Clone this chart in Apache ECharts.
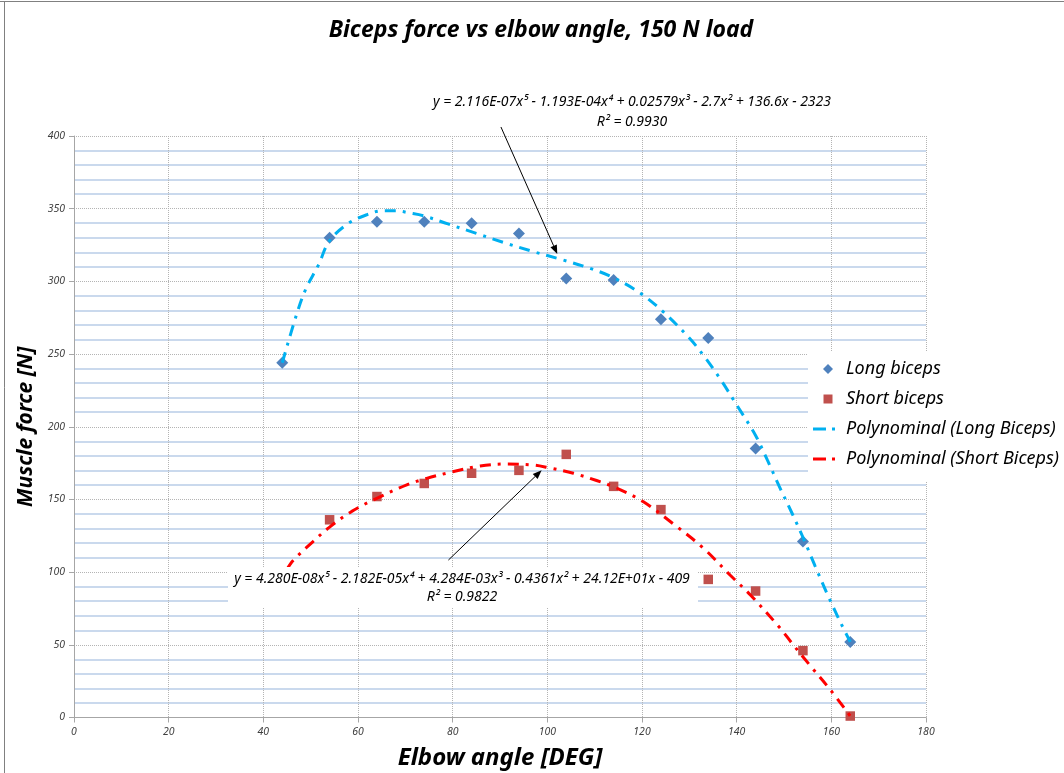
<!DOCTYPE html>
<html><head><meta charset="utf-8">
<script src="https://cdn.jsdelivr.net/npm/echarts@6/dist/echarts.min.js"></script>
<style>html,body{margin:0;padding:0;background:#fff}#c{width:1064px;height:773px}</style>
</head><body><div id="c"></div>
<script>
// ---- data ----
const longAngles = [44, 54, 64, 74, 84, 94, 104, 114, 124, 134, 144, 154, 164];
const longBiceps = [244, 330, 341, 341, 340, 333, 302, 301, 274, 261, 185, 121, 52];
const shortAngles = [54, 64, 74, 84, 94, 104, 114, 124, 134, 144, 154, 164];
const shortBiceps = [136, 152, 161, 168, 170, 181, 159, 143, 95, 87, 46, 1];

const longTrendX = [44, 47, 49, 51.6, 54, 58, 62, 65, 68, 71, 74, 79, 85, 91, 97, 103, 109, 114, 119.6, 124.5, 130, 133, 136.5, 140, 144, 146.5, 149, 151.7, 154, 156.6, 159.4, 162, 164];
const longTrendY = [244, 277, 295, 311, 328, 340, 346, 348.5, 348.5, 347, 345, 339.5, 333, 326.5, 320.5, 315, 309, 302.5, 292, 279, 261, 249, 233, 215, 194, 177, 159, 140.5, 124, 104, 83, 65, 52];
const shortTrendX = [45, 46.3, 50.5, 54, 58.6, 63.2, 70.3, 74.5, 80, 85.8, 91.4, 97, 100, 105.5, 110.4, 114.7, 120.3, 127.4, 133, 138.6, 142.9, 149.2, 151.7, 155.7, 159.8, 164];
const shortTrendY = [102, 108, 121, 131, 141.6, 149.6, 160, 164.5, 169, 173, 174.4, 173.7, 172, 168, 163, 157.7, 148.4, 131.2, 116.4, 98, 84.3, 61.4, 51, 35, 19, 1];

const xMin = 0, xMax = 180, xStep = 20;
const yMin = 0, yMax = 400, yStep = 50;

const titleText = 'Biceps force vs elbow angle, 150 N load';
const xName = 'Elbow angle [DEG]';
const yName = 'Muscle force [N]';
const seriesNames = ['Long biceps', 'Short biceps', 'Polynominal (Long Biceps)', 'Polynominal (Short Biceps)'];
const eqLong = ['y = 2.116E-07x⁵ - 1.193E-04x⁴ + 0.02579x³ - 2.7x² + 136.6x - 2323', 'R² = 0.9930'];
const eqShort = ['y = 4.280E-08x⁵ - 2.182E-05x⁴ + 4.284E-03x³ - 0.4361x² + 24.12E+01x - 409', 'R² = 0.9822'];
// arrow annotations in data coordinates [from, to]
const arrowLong = [[90.2, 406.2], [102.1, 318.8]];
const arrowShort = [[79.1, 108.3], [98.8, 170.1]];

const zip = (a, b) => a.map((v, i) => [v, b[i]]);
const FONT = 'Noto Sans';
const chart = echarts.init(document.getElementById('c'), null, {renderer: 'canvas'});

const dashDot = [11, 7, 3, 7];
// legend icons drawn in a 22x10 box (zero-length subpaths fix the box)
const BOX = 'M0,0L0,0M22,10L22,10';
const icons = [
  'path://' + BOX + 'M15,0L20,5L15,10L10,5Z',
  'path://' + BOX + 'M10.5,0.5L19.5,0.5L19.5,9.5L10.5,9.5Z',
  'path://' + BOX + 'M0,3.5L13,3.5L13,6.5L0,6.5ZM19,3.5L22,3.5L22,6.5L19,6.5Z',
  'path://' + BOX + 'M0,3.5L13,3.5L13,6.5L0,6.5ZM19,3.5L22,3.5L22,6.5L19,6.5Z'
];
const option = {
  animation: false,
  backgroundColor: '#fff',
  title: {
    text: titleText, left: 541, top: 19, textAlign: 'center', padding: 0,
    textStyle: {fontFamily: FONT, fontSize: 23, fontWeight: 'bold', fontStyle: 'italic', color: '#000'}
  },
  grid: {left: 74, right: 138, top: 136, bottom: 55.5, containLabel: false, outerBoundsMode: 'none'},
  legend: {
    orient: 'vertical', left: 808, top: 352,
    backgroundColor: '#fff', padding: [8, 12, 13, 5],
    itemWidth: 22, itemHeight: 10, itemGap: 12, symbolKeepAspect: false,
    textStyle: {fontFamily: FONT, fontSize: 18, fontStyle: 'italic', color: '#000', lineHeight: 17, padding: [0, 0, 0, 6]},
    data: seriesNames.map((n, i) => ({name: n, icon: icons[i]}))
  },
  xAxis: {
    type: 'value', min: xMin, max: xMax, interval: xStep,
    name: xName, nameLocation: 'middle', nameGap: 29,
    nameTextStyle: {fontFamily: FONT, fontSize: 24, fontWeight: 'bold', fontStyle: 'italic', color: '#000'},
    axisLine: {show: true, lineStyle: {color: '#a6a6a6', width: 1}},
    axisTick: {show: true, inside: false, length: 5, lineStyle: {color: '#a6a6a6'}},
    axisLabel: {fontFamily: FONT, fontSize: 10.5, fontStyle: 'italic', color: '#404040', margin: 9},
    splitLine: {show: true, lineStyle: {color: '#b4b4b4', type: 'dotted', width: 1}}
  },
  yAxis: {
    type: 'value', min: yMin, max: yMax, interval: yStep,
    name: yName, nameLocation: 'middle', nameGap: 30,
    nameTextStyle: {fontFamily: FONT, fontSize: 21, fontWeight: 'bold', fontStyle: 'italic', color: '#000'},
    axisLine: {show: true, lineStyle: {color: '#a6a6a6', width: 1}},
    axisTick: {show: true, inside: false, length: 5, lineStyle: {color: '#a6a6a6'}},
    axisLabel: {fontFamily: FONT, fontSize: 10.5, fontStyle: 'italic', color: '#404040', margin: 9},
    splitLine: {show: true, lineStyle: {color: '#b4b4b4', type: 'dotted', width: 1}},
    minorTick: {show: false, splitNumber: 5},
    minorSplitLine: {show: true, lineStyle: {color: '#b9cde8', width: 1.5}}
  },
  series: [
    {name: seriesNames[0], type: 'scatter', symbol: 'diamond', symbolSize: 12,
     itemStyle: {color: '#4f81bd', opacity: 1}, data: zip(longAngles, longBiceps), z: 3},
    {name: seriesNames[1], type: 'scatter', symbol: 'rect', symbolSize: 9.5,
     itemStyle: {color: '#c0504d', opacity: 1}, data: zip(shortAngles, shortBiceps), z: 3},
    {name: seriesNames[2], type: 'line', smooth: 0.35, symbol: 'none', showSymbol: false,
     itemStyle: {color: '#00b0f0'},
     lineStyle: {color: '#00b0f0', width: 3, type: dashDot}, data: zip(longTrendX, longTrendY), z: 4},
    {name: seriesNames[3], type: 'line', smooth: 0.35, symbol: 'none', showSymbol: false,
     itemStyle: {color: '#ff0000'},
     lineStyle: {color: '#ff0000', width: 3, type: dashDot}, data: zip(shortTrendX, shortTrendY), z: 4}
  ]
};
chart.setOption(option);

function arrow(a) {
  const p0 = chart.convertToPixel({gridIndex: 0}, a[0]);
  const p1 = chart.convertToPixel({gridIndex: 0}, a[1]);
  const dx = p1[0] - p0[0], dy = p1[1] - p0[1];
  const L = Math.sqrt(dx * dx + dy * dy), ux = dx / L, uy = dy / L;
  const len = 9, hw = 3.5;
  const bx = p1[0] - ux * len, by = p1[1] - uy * len;
  return [
    {type: 'line', z: 120, shape: {x1: p0[0], y1: p0[1], x2: bx, y2: by}, style: {stroke: '#000', lineWidth: 1}},
    {type: 'polygon', z: 120, shape: {points: [[p1[0], p1[1]], [bx - uy * hw, by + ux * hw], [bx + uy * hw, by - ux * hw]]}, style: {fill: '#000'}}
  ];
}
const eqStyle = {fontFamily: FONT, fontSize: 14, fontStyle: 'italic', fill: '#000', align: 'center', verticalAlign: 'middle'};
const graphics = [
  {type: 'line', z: 150, shape: {x1: 0, y1: 1.5, x2: 1064, y2: 1.5}, style: {stroke: '#808080', lineWidth: 1}},
  {type: 'line', z: 150, shape: {x1: 4.5, y1: 1.5, x2: 4.5, y2: 773}, style: {stroke: '#808080', lineWidth: 1}},
  {type: 'rect', z: 100, shape: {x: 228, y: 567, width: 470, height: 41}, style: {fill: '#fff'}},
  {type: 'text', z: 101, x: 462, y: 579, style: Object.assign({text: eqShort[0]}, eqStyle)},
  {type: 'text', z: 101, x: 462, y: 597, style: Object.assign({text: eqShort[1]}, eqStyle)},
  {type: 'text', z: 101, x: 632, y: 102, style: Object.assign({text: eqLong[0]}, eqStyle)},
  {type: 'text', z: 101, x: 632, y: 122, style: Object.assign({text: eqLong[1]}, eqStyle)}
].concat(arrow(arrowLong), arrow(arrowShort));
chart.setOption({graphic: {elements: graphics}});
</script>
</body></html>
